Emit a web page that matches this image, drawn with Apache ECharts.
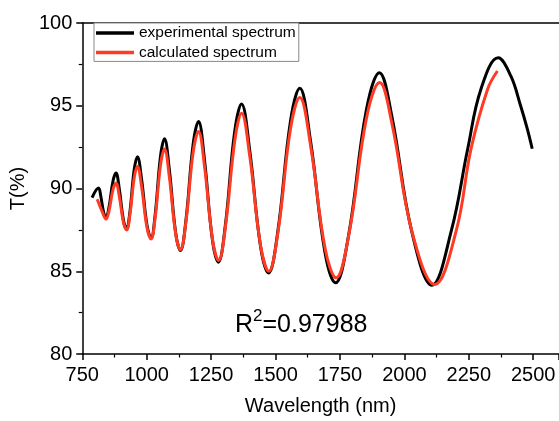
<!DOCTYPE html>
<html>
<head>
<meta charset="utf-8">
<script src="https://cdn.jsdelivr.net/npm/echarts@6/dist/echarts.min.js"></script>
<style>
  html, body { margin: 0; padding: 0; background: #fff; }
  #chart { width: 559px; height: 421px; }
</style>
</head>
<body>
<div id="chart"></div>
<script>
// ---- data ----
const expX = [788, 813, 821.7, 833.3, 842, 853.7, 869.3, 881, 893.3, 909.7, 922, 934.6, 951.4, 964, 979.9, 1001.1, 1017, 1032.6, 1053.4, 1069, 1087.6, 1112.4, 1131, 1152, 1180, 1201, 1224.1, 1254.9, 1278, 1305, 1341, 1368, 1399.5, 1441.5, 1473, 1509.3, 1557.7, 1594, 1635.7, 1691.3, 1733, 1784, 1852, 1903, 1951, 2028, 2107, 2182, 2246, 2297, 2364, 2413, 2451, 2477, 2496];
const expY = [89.45, 90.03, 89.55, 88.53, 88.25, 88.87, 90.45, 90.93, 90.02, 88.09, 87.55, 88.56, 91.13, 91.92, 90.59, 87.79, 87.0, 88.38, 91.92, 93.0, 91.18, 87.33, 86.25, 88.04, 92.65, 94.05, 91.76, 86.91, 85.55, 87.75, 93.38, 95.1, 92.35, 86.53, 84.9, 87.46, 94.04, 96.05, 92.88, 86.18, 84.3, 87.22, 94.71, 97.0, 94.4, 87.44, 84.15, 87.44, 92.42, 96.0, 97.9, 96.8, 95.0, 93.6, 92.4];
const calcX = [808, 826, 842, 853.7, 869.3, 881, 893.3, 909.7, 922, 934.6, 951.4, 964, 979.9, 1001.1, 1017, 1032.6, 1053.4, 1069, 1087.6, 1112.4, 1131, 1152, 1180, 1201, 1224.4, 1255.6, 1279, 1305.7, 1342.3, 1368, 1399.8, 1442.2, 1474, 1510, 1558, 1594, 1636.3, 1692.7, 1735, 1785.7, 1853.3, 1904, 1952, 2031, 2118, 2201, 2259, 2323, 2361];
const calcY = [89.35, 88.65, 88.15, 88.65, 89.94, 90.33, 89.57, 87.95, 87.5, 88.38, 90.64, 91.33, 90.15, 87.65, 86.95, 88.2, 91.4, 92.38, 90.74, 87.27, 86.3, 87.94, 92.16, 93.45, 91.34, 86.9, 85.65, 87.7, 92.95, 94.55, 91.97, 86.53, 85.0, 87.42, 93.61, 95.5, 92.56, 86.34, 84.6, 87.31, 94.28, 96.4, 93.9, 87.3, 84.2, 87.44, 92.42, 96.0, 97.1];
const seriesNames = ['experimental spectrum', 'calculated spectrum'];
const xTicks = { min: 750, max: 2600, step: 250 };
const yTicks = { min: 80, max: 100, step: 5 };
const r2Text = '0.97988';
const xTitle = 'Wavelength (nm)';
const yTitle = 'T(%)';

const FONT = '"Liberation Sans", Arial, sans-serif';
const chart = echarts.init(document.getElementById('chart'), null, { renderer: 'canvas' });

const axisCommon = {
  axisLine: { show: true, onZero: false, lineStyle: { color: '#000', width: 1.5 } },
  axisTick: { show: true, inside: false, length: 6, lineStyle: { color: '#000', width: 1.5 } },
  minorTick: { show: true, splitNumber: 2, length: 3.5, lineStyle: { color: '#000', width: 1.2 } },
  splitLine: { show: false },
  axisLabel: { color: '#000', fontSize: 20, fontFamily: FONT, formatter: v => String(v) }
};

chart.setOption({
  backgroundColor: '#fff',
  animation: false,
  grid: { left: 81, top: 23, width: 481, height: 335, containLabel: false },
  legend: {
    left: 94, top: 23, orient: 'vertical',
    backgroundColor: '#fff',
    borderColor: '#888', borderWidth: 1,
    padding: [2, 3, 1, 2],
    itemGap: 3.4,
    itemWidth: 38, itemHeight: 3.5,
    icon: 'rect',
    textStyle: { fontSize: 15.5, fontFamily: FONT, color: '#000', lineHeight: 16 },
    data: seriesNames
  },
  xAxis: [
    Object.assign({}, axisCommon, {
      type: 'value', min: xTicks.min, max: xTicks.max, interval: xTicks.step,
      position: 'bottom',
      name: xTitle, nameLocation: 'middle', nameGap: 42,
      nameTextStyle: { color: '#000', fontSize: 20, fontFamily: FONT },
      axisLabel: Object.assign({}, axisCommon.axisLabel, { margin: 11, showMaxLabel: false })
    }),
    {
      type: 'value', min: xTicks.min, max: xTicks.max, position: 'top',
      axisLine: { show: true, lineStyle: { color: '#000', width: 1.5 } },
      axisTick: { show: false }, axisLabel: { show: false }, splitLine: { show: false }
    }
  ],
  yAxis: Object.assign({}, axisCommon, {
    type: 'value', min: yTicks.min, max: yTicks.max, interval: yTicks.step,
    name: yTitle, nameLocation: 'middle', nameGap: 51, nameRotate: 90,
    nameTextStyle: { color: '#000', fontSize: 20, fontFamily: FONT },
    axisLabel: Object.assign({}, axisCommon.axisLabel, { margin: 10 })
  }),
  series: [
    {
      name: seriesNames[0], type: 'line', smooth: 0.4, showSymbol: false, symbol: 'none',
      color: '#000', lineStyle: { color: '#000', width: 3 },
      data: expX.map((x, i) => [x, expY[i]]), z: 2
    },
    {
      name: seriesNames[1], type: 'line', smooth: 0.4, showSymbol: false, symbol: 'none',
      color: '#ff3b24', lineStyle: { color: '#ff3b24', width: 3 },
      data: calcX.map((x, i) => [x, calcY[i]]), z: 3
    }
  ],
  graphic: [
    {
      type: 'text', left: 235, top: 308,
      style: {
        text: '{r|R}{s|2}{r|=' + r2Text + '}',
        rich: {
          r: { fontSize: 25, fontFamily: FONT, fill: '#000', verticalAlign: 'bottom', lineHeight: 30 },
          s: { fontSize: 17, fontFamily: FONT, fill: '#000', verticalAlign: 'top', lineHeight: 18 }
        }
      }
    }
  ]
});
</script>
</body>
</html>
